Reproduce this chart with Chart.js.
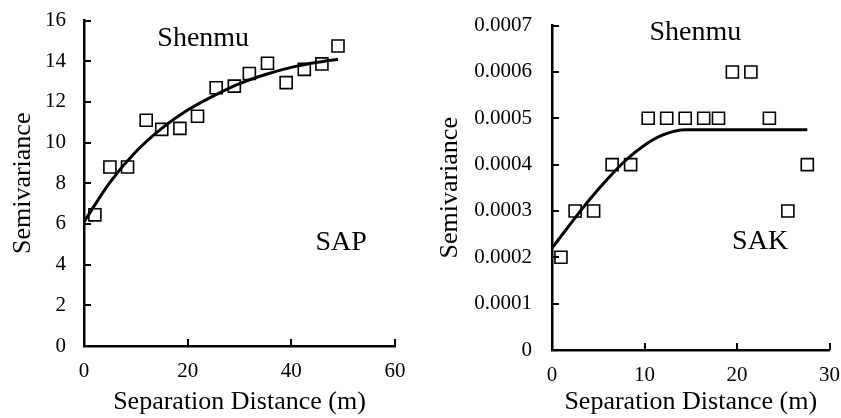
<!DOCTYPE html>
<html>
<head>
<meta charset="utf-8">
<script src="https://cdn.jsdelivr.net/npm/chart.js@4"></script>
<style>
  html, body { margin: 0; padding: 0; background: #fff; }
  #wrap { position: relative; width: 841px; height: 418px; overflow: hidden; }
  .box { position: absolute; }
  #b1 { left: 0; top: -10px; width: 420px; height: 428px; }
  #b2 { left: 420px; top: -7px; width: 433px; height: 425px; }
</style>
</head>
<body>
<div id="wrap">
  <div class="box" id="b1"><canvas id="c1"></canvas></div>
  <div class="box" id="b2"><canvas id="c2"></canvas></div>
</div>
<script>
// ---------- Data: SAP (left) ----------
const sapLagX   = [2.1, 5.0, 8.4, 12.0, 15.0, 18.5, 21.9, 25.5, 29.0, 31.9, 35.4, 39.0, 42.5, 45.9, 49.0];
const sapGamma  = [6.45, 8.8, 8.8, 11.1, 10.65, 10.7, 11.3, 12.7, 12.78, 13.4, 13.9, 12.95, 13.6, 13.87, 14.75];
const sapFitX   = [0, 5, 10, 15, 20, 25, 30, 35, 40, 45, 49];
const sapFitY   = [6.1, 8.05, 9.55, 10.7, 11.6, 12.3, 12.9, 13.35, 13.7, 13.95, 14.1];
const sapXTicks = [0, 20, 40, 60];
const sapXLabels = ['0', '20', '40', '60'];
const sapYTicks = [0, 2, 4, 6, 8, 10, 12, 14, 16];
const sapYLabels = ['0', '2', '4', '6', '8', '10', '12', '14', '16'];
const sapNotes  = [{ text: 'Shenmu', x: 23, y: 15.1 }, { text: 'SAP', x: 49.6, y: 5.1 }];

// ---------- Data: SAK (right) ----------
const sakLagX   = [0.97, 2.5, 4.5, 6.5, 8.5, 10.4, 12.4, 14.4, 16.4, 18.0, 19.5, 21.5, 23.5, 25.5, 27.6];
const sakGamma  = [0.0002, 0.0003, 0.0003, 0.0004, 0.0004, 0.0005, 0.0005, 0.0005, 0.0005, 0.0005, 0.0006, 0.0006, 0.0005, 0.0003, 0.0004];
const sakFitX   = [0, 2, 4, 6, 8, 10, 12, 14.5, 20, 27.6];
const sakFitY   = [0.00022, 0.000272, 0.000323, 0.000369, 0.00041, 0.000442, 0.000464, 0.000475, 0.000475, 0.000475];
const sakXTicks = [0, 10, 20, 30];
const sakXLabels = ['0', '10', '20', '30'];
const sakYTicks = [0, 0.0001, 0.0002, 0.0003, 0.0004, 0.0005, 0.0006, 0.0007];
const sakYLabels = ['0', '0.0001', '0.0002', '0.0003', '0.0004', '0.0005', '0.0006', '0.0007'];
const sakNotes  = [{ text: 'Shenmu', x: 15.5, y: 0.000684 }, { text: 'SAK', x: 22.5, y: 0.000234 }];

const xTitle = 'Separation Distance (m)';
const yTitle = 'Semivariance';

const FONT = "'Liberation Serif', 'Times New Roman', serif";

const innerTicks = {
  id: 'innerTicks',
  afterDraw(chart) {
    const ctx = chart.ctx;
    const xs = chart.scales.x, ys = chart.scales.y;
    ctx.save();
    ctx.strokeStyle = '#000';
    ctx.lineWidth = 2;
    ctx.beginPath();
    xs.ticks.forEach(t => {
      const px = Math.round(xs.getPixelForValue(t.value));
      ctx.moveTo(px, ys.bottom);
      ctx.lineTo(px, ys.bottom - 7);
    });
    ys.ticks.forEach(t => {
      const py = Math.round(ys.getPixelForValue(t.value));
      ctx.moveTo(xs.left, py);
      ctx.lineTo(xs.left + 7, py);
    });
    ctx.stroke();
    ctx.restore();
  }
};

const notesPlugin = {
  id: 'notes',
  afterDraw(chart, args, opts) {
    const ctx = chart.ctx;
    const xs = chart.scales.x, ys = chart.scales.y;
    ctx.save();
    ctx.fillStyle = '#000';
    ctx.font = '28px ' + FONT;
    ctx.textAlign = 'center';
    ctx.textBaseline = 'middle';
    (opts.items || []).forEach(n => {
      ctx.fillText(n.text, xs.getPixelForValue(n.x), ys.getPixelForValue(n.y));
    });
    ctx.restore();
  }
};

function makeChart(id, cfg) {
  const pts = cfg.lagX.map((x, i) => ({ x, y: cfg.gamma[i] }));
  const fit = cfg.fitX.map((x, i) => ({ x, y: cfg.fitY[i] }));
  return new Chart(document.getElementById(id), {
    type: 'scatter',
    data: {
      datasets: [
        {
          data: fit,
          showLine: true,
          borderColor: '#000',
          borderWidth: 3,
          pointRadius: 0,
          cubicInterpolationMode: 'monotone',
          fill: false,
          clip: false
        },
        {
          data: pts,
          pointStyle: 'rect',
          pointRadius: 8.5,
          pointBorderWidth: 1.6,
          pointBorderColor: '#000',
          pointBackgroundColor: '#fff',
          showLine: false,
          clip: false
        }
      ]
    },
    options: {
      responsive: true,
      maintainAspectRatio: false,
      animation: false,
      devicePixelRatio: 1,
      layout: { padding: cfg.padding },
      plugins: {
        legend: { display: false },
        tooltip: { enabled: false },
        notes: { items: cfg.notes }
      },
      scales: {
        x: {
          type: 'linear',
          min: cfg.xTicks[0],
          max: cfg.xTicks[cfg.xTicks.length - 1],
          afterBuildTicks: s => { s.ticks = cfg.xTicks.map(v => ({ value: v })); },
          afterFit: s => { s.height = cfg.xHeight; },
          grid: { display: false, drawTicks: false, tickLength: 0 },
          border: { display: true, color: '#000', width: 2.5 },
          ticks: {
            color: '#000',
            font: { family: FONT, size: 21 },
            padding: 13,
            maxRotation: 0,
            callback: v => cfg.xLabels[cfg.xTicks.indexOf(v)]
          },
          title: {
            display: true,
            text: xTitle,
            color: '#000',
            font: { family: FONT, size: 26 },
            padding: { top: 0, bottom: 0 }
          }
        },
        y: {
          type: 'linear',
          min: cfg.yTicks[0],
          max: cfg.yTicks[cfg.yTicks.length - 1],
          afterBuildTicks: s => { s.ticks = cfg.yTicks.map(v => ({ value: v })); },
          afterFit: s => { s.width = cfg.yWidth; },
          grid: { display: false, drawTicks: false, tickLength: 0 },
          border: { display: true, color: '#000', width: 2.5 },
          ticks: {
            color: '#000',
            font: { family: FONT, size: 21 },
            padding: cfg.yTickPad,
            callback: v => cfg.yLabels[cfg.yTicks.indexOf(v)]
          },
          title: {
            display: true,
            text: yTitle,
            color: '#000',
            font: { family: FONT, size: 26 },
            padding: { top: cfg.yTitlePad, bottom: 0 }
          }
        }
      }
    },
    plugins: [innerTicks, notesPlugin]
  });
}

makeChart('c1', {
  lagX: sapLagX, gamma: sapGamma, fitX: sapFitX, fitY: sapFitY,
  xTicks: sapXTicks, xLabels: sapXLabels, yTicks: sapYTicks, yLabels: sapYLabels,
  notes: sapNotes,
  padding: { left: 0, top: 0, right: 25, bottom: 0 },
  xHeight: 72, yWidth: 84, yTickPad: 18, yTitlePad: 8
});

makeChart('c2', {
  lagX: sakLagX, gamma: sakGamma, fitX: sakFitX, fitY: sakFitY,
  xTicks: sakXTicks, xLabels: sakXLabels, yTicks: sakYTicks, yLabels: sakYLabels,
  notes: sakNotes,
  padding: { left: 0, top: 0, right: 0, bottom: 0 },
  xHeight: 68, yWidth: 132, yTickPad: 20, yTitlePad: 15
});
</script>
</body>
</html>
